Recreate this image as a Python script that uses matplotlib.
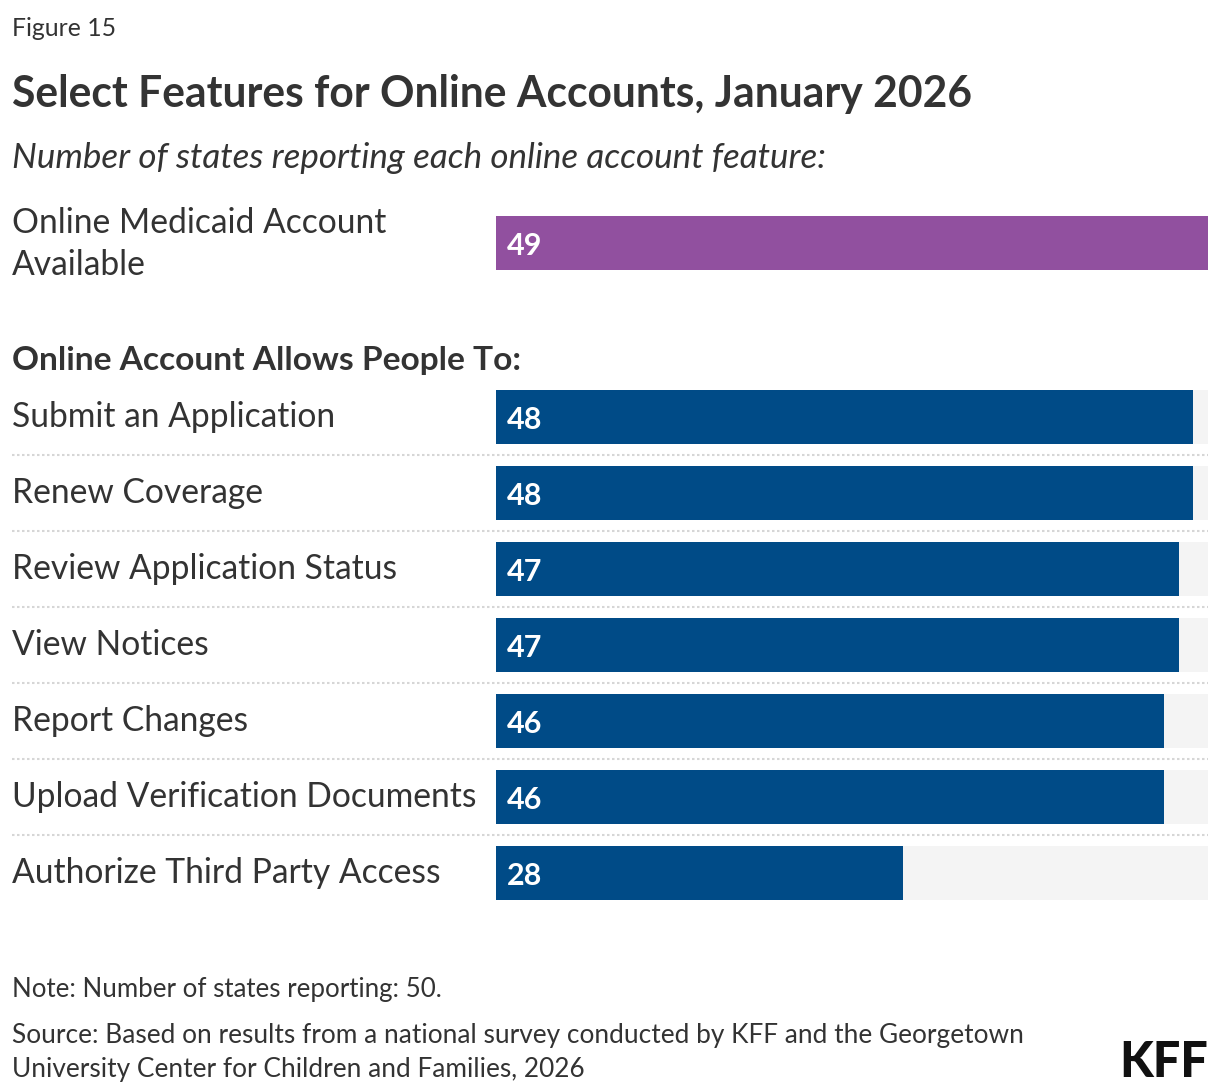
import matplotlib
matplotlib.use("Agg")
import matplotlib.pyplot as plt

# data
top_label = "Online Medicaid Account\nAvailable"
top_value = 49

features = ["Submit an Application", "Renew Coverage", "Review Application Status",
            "View Notices", "Report Changes", "Upload Verification Documents",
            "Authorize Third Party Access"]
counts = [48, 48, 47, 47, 46, 46, 28]

scale_max = 49

W, H = 1220, 1092
plt.rcParams['font.family'] = ['Lato', 'DejaVu Sans']
txt = '#333333'
blue = '#004b87'
purple = '#91509f'
track = '#f4f4f4'
P = 0.72  # points per pixel at 100 dpi

fig = plt.figure(figsize=(W / 100, H / 100), dpi=100)


def px(x, y):
    return x / W, 1 - y / H


def ax_box(left, top, right, bottom):
    return [left / W, 1 - bottom / H, (right - left) / W, (bottom - top) / H]


# bars start at pixel 496, axes starts at 12 -> left margin in data units
unit = (1208 - 496) / scale_max
xleft = -(496 - 12) / unit
bar_h = 54 / 76
lab_size = 24.2
val_size = 22


def value_label(a, v, yy):
    a.annotate(str(v), (0, yy), xytext=(11 * P, -12 * P), textcoords='offset points',
               color='white', fontsize=val_size, fontweight='bold', va='baseline')


# header texts
fig.text(*px(12, 36), "Figure 15", fontsize=17.8, color=txt, va='baseline')
fig.text(*px(12, 107), "Select Features for Online Accounts, January 2026",
         fontsize=30.7, fontweight='bold', color=txt, va='baseline')
fig.text(*px(12, 168), "Number of states reporting each online account feature:",
         fontsize=25.2, style='italic', color=txt, va='baseline')

# top bar
ax0 = fig.add_axes(ax_box(12, 205, 1208, 281))
ax0.barh([0], [scale_max], height=bar_h, color=track)
ax0.barh([0], [top_value], height=bar_h, color=purple)
value_label(ax0, top_value, 0)
for k, line in enumerate(top_label.split("\n")):
    ax0.annotate(line, (xleft, 0), xytext=(0, (10 - 42 * k) * P),
                 textcoords='offset points', fontsize=lab_size, color=txt,
                 va='baseline')
ax0.set_xlim(xleft, scale_max)
ax0.set_ylim(0.5, -0.5)
ax0.axis('off')

fig.text(*px(12, 370), "Online Account Allows People To:", fontsize=24.1,
         fontweight='bold', color=txt, va='baseline')

# feature bars
ax = fig.add_axes(ax_box(12, 379, 1208, 911))
y = list(range(len(features)))
ax.barh(y, [scale_max] * len(features), height=bar_h, color=track)
ax.barh(y, counts, height=bar_h, color=blue)
for i, (name, c) in enumerate(zip(features, counts)):
    ax.annotate(name, (xleft, i), xytext=(0, -10 * P), textcoords='offset points',
                fontsize=lab_size, color=txt, va='baseline')
    value_label(ax, c, i)
for i in range(len(features) - 1):
    ax.hlines(i + 0.5, xleft, scale_max, colors='#d6d6d6', linewidth=1.5,
              linestyles=(0, (1.2, 1.2)))
ax.set_xlim(xleft, scale_max)
ax.set_ylim(len(features) - 0.5, -0.5)
ax.axis('off')

# footer
fig.text(*px(12, 997), "Note: Number of states reporting: 50.", fontsize=18.6,
         color=txt, va='baseline')
fig.text(*px(12, 1043), "Source: Based on results from a national survey conducted by KFF and the Georgetown",
         fontsize=18.9, color=txt, va='baseline')
fig.text(*px(12, 1077), "University Center for Children and Families, 2026",
         fontsize=18.9, color=txt, va='baseline')
fig.text(*px(1208, 1077), "KFF", fontsize=35, fontweight='black', color='#111111',
         ha='right', va='baseline')

fig.savefig("out.png", dpi=100, facecolor='white')
